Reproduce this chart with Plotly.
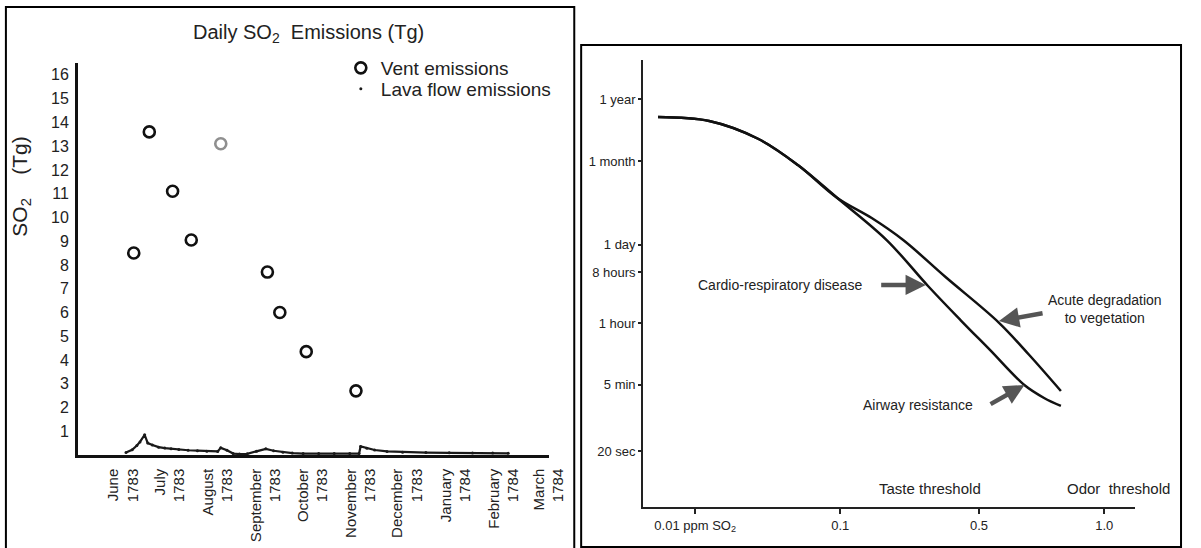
import math
import plotly.graph_objects as go

W, H = 1201, 548
FONT = "Liberation Sans, Arial, sans-serif"
INK = "#222222"

# ---------------- Left panel data: daily SO2 emissions (Tg) ----------------
month_ticks = ["1783-06-01", "1783-07-01", "1783-08-01", "1783-09-01", "1783-10-01",
               "1783-11-01", "1783-12-01", "1784-01-01", "1784-02-01", "1784-03-01"]
month_labels = ["June<br>1783", "July<br>1783", "August<br>1783", "September<br>1783",
                "October<br>1783", "November<br>1783", "December<br>1783",
                "January<br>1784", "February<br>1784", "March<br>1784"]
so2_ticks = list(range(1, 17))

vent_dates = ["1783-06-08", "1783-06-18", "1783-07-03", "1783-07-15", "1783-08-03",
              "1783-09-02", "1783-09-10", "1783-09-27", "1783-10-29"]
vent_tg = [8.5, 13.6, 11.1, 9.05, 13.1, 7.7, 6.0, 4.35, 2.7]
vent_edge = ["#111111", "#111111", "#111111", "#111111", "#8f8f8f",
             "#111111", "#111111", "#111111", "#111111"]

lava_dates = ["1783-06-03", "1783-06-07", "1783-06-10", "1783-06-12", "1783-06-15",
              "1783-06-17", "1783-06-20", "1783-06-24", "1783-06-28", "1783-07-02",
              "1783-07-07", "1783-07-13", "1783-07-19", "1783-07-25", "1783-08-01",
              "1783-08-03", "1783-08-07", "1783-08-11", "1783-08-15", "1783-08-20",
              "1783-08-26", "1783-09-01", "1783-09-06", "1783-09-12", "1783-09-18",
              "1783-09-25", "1783-10-05", "1783-10-15", "1783-10-25", "1783-10-31",
              "1783-11-01", "1783-11-05", "1783-11-10", "1783-11-18", "1783-11-28",
              "1783-12-13", "1783-12-28", "1784-01-12", "1784-01-25", "1784-02-04"]
lava_tg = [0.10, 0.22, 0.40, 0.55, 0.85,
           0.50, 0.42, 0.33, 0.29, 0.26,
           0.23, 0.20, 0.18, 0.16, 0.15,
           0.30, 0.20, 0.06, 0.04, 0.05,
           0.16, 0.26, 0.18, 0.12, 0.08,
           0.06, 0.06, 0.06, 0.06, 0.06,
           0.36, 0.28, 0.21, 0.15, 0.12,
           0.10, 0.09, 0.08, 0.08, 0.07]

# ---------------- Right panel data: exposure duration vs concentration ----------------
# x is a schematic (non-uniform) concentration axis; positions of the labelled ticks
conc_tick_pos = [0.0, 1.0, 1.957, 2.82]
conc_tick_labels = ["0.01 ppm SO<sub>2</sub>", "0.1", "0.5", "1.0"]
dur_tick_s = [31536000, 2592000, 86400, 28800, 3600, 300, 20]
dur_tick_labels = ["1 year", "1 month", "1 day", "8 hours", "1 hour", "5 min", "20 sec"]

# Cardio-respiratory disease / airway resistance curve
lower_pos = [-0.256, 0.097, 0.437, 0.708, 0.980, 1.320, 1.605, 1.829, 2.032,
             2.269, 2.405, 2.521]
lower_dur_s = [1.54e7, 1.31e7, 6.31e6, 2.20e6, 5.77e5, 1.05e5, 1.63e4, 4.10e3, 1.22e3,
               294, 174, 126]
# Acute degradation to vegetation curve
upper_pos = [-0.256, 0.097, 0.437, 0.708, 0.980, 1.217, 1.434, 1.726, 2.093,
             2.303, 2.521]
upper_dur_s = [1.54e7, 1.31e7, 6.31e6, 2.20e6, 5.77e5, 2.56e5, 1.05e5, 2.34e4, 3.70e3,
               993, 231]

fig = go.Figure()

# Left panel traces
fig.add_trace(go.Scatter(
    x=lava_dates, y=lava_tg, mode="lines", line=dict(color="#1a1a1a", width=2.2),
    showlegend=False, xaxis="x", yaxis="y", hoverinfo="skip"))
fig.add_trace(go.Scatter(
    x=vent_dates, y=vent_tg, mode="markers", name="Vent emissions",
    marker=dict(symbol="circle-open", size=11, color=vent_edge,
                line=dict(width=2.6, color=vent_edge)),
    xaxis="x", yaxis="y", legend="legend"))
fig.add_trace(go.Scatter(
    x=lava_dates, y=lava_tg, mode="markers", name="Lava flow emissions",
    marker=dict(symbol="circle", size=3, color="#1a1a1a"),
    xaxis="x", yaxis="y", legend="legend2"))

# Right panel traces
fig.add_trace(go.Scatter(
    x=lower_pos, y=lower_dur_s, mode="lines",
    line=dict(color="#111111", width=2.5, shape="spline", smoothing=1.0),
    showlegend=False, xaxis="x2", yaxis="y2"))
fig.add_trace(go.Scatter(
    x=upper_pos, y=upper_dur_s, mode="lines",
    line=dict(color="#111111", width=2.5, shape="spline", smoothing=1.0),
    showlegend=False, xaxis="x2", yaxis="y2"))

annotations = []
annotations.append(dict(text="Daily SO<sub>2</sub>&nbsp; Emissions (Tg)", xref="paper", yref="paper",
                        x=313 / W, y=1 - 34 / H, xanchor="center", yanchor="middle",
                        showarrow=False, font=dict(family=FONT, size=20, color=INK)))
annotations.append(dict(text="SO<sub>2</sub>&nbsp;&nbsp;&nbsp;&nbsp;(Tg)", xref="paper", yref="paper",
                        x=21 / W, y=1 - 187 / H, xanchor="center", yanchor="middle",
                        showarrow=False, textangle=-90,
                        font=dict(family=FONT, size=21, color=INK)))

lbl = dict(showarrow=False, xanchor="center", yanchor="middle")
annotations += [
    dict(text="Taste threshold", xref="x2", yref="paper", x=1.618, y=1 - 488 / H,
         font=dict(family=FONT, size=15, color=INK), **lbl),
    dict(text="Odor&nbsp; threshold", xref="x2", yref="paper", x=2.921, y=1 - 488 / H,
         font=dict(family=FONT, size=15, color=INK), **lbl),
    dict(text="Cardio-respiratory disease", xref="x2", yref="y2", x=0.586, y=4.230,
         font=dict(family=FONT, size=14, color=INK), **lbl),
    dict(text="Acute degradation<br>to vegetation", xref="x2", yref="y2", x=2.827, y=3.807,
         align="center", font=dict(family=FONT, size=14, color=INK), **lbl),
    dict(text="Airway resistance", xref="x2", yref="y2", x=1.537, y=2.117,
         font=dict(family=FONT, size=14, color=INK), **lbl),
]
arrow_style = dict(text="", showarrow=True, arrowhead=2, arrowsize=0.9, arrowwidth=4.5,
                   arrowcolor="#555555", xref="x2", yref="y2", axref="x2", ayref="y2")
annotations += [
    dict(x=1.590, y=4.230, ax=1.272, ay=4.230, **arrow_style),
    dict(x=2.094, y=3.596, ax=2.405, ay=3.737, **arrow_style),
    dict(x=2.270, y=2.469, ax=2.026, ay=2.117, **arrow_style),
]

shapes = [
    dict(type="rect", xref="paper", yref="paper", x0=6 / W, x1=583 / W, y0=-0.02, y1=1 - 7 / H,
         line=dict(color="#000000", width=2)),
    dict(type="rect", xref="paper", yref="paper", x0=590 / W, x1=1199 / W, y0=1 - 547 / H,
         y1=1 - 45 / H, line=dict(color="#000000", width=2)),
]

legend_common = dict(xanchor="left", yanchor="top", bgcolor="rgba(0,0,0,0)",
                     font=dict(family=FONT, size=19, color=INK))

fig.update_layout(
    width=W, height=H, margin=dict(l=0, r=0, t=0, b=0),
    paper_bgcolor="white", plot_bgcolor="white",
    font=dict(family=FONT, color=INK),
    showlegend=True,
    legend=dict(x=346 / W, y=1 - 49 / H, **legend_common),
    legend2=dict(x=346 / W, y=1 - 70 / H, **legend_common),
    xaxis=dict(domain=[79 / W, 557 / W], type="date",
               range=["1783-05-03", "1784-03-01"],
               tickmode="array", tickvals=month_ticks, ticktext=month_labels,
               tickangle=-90, tickfont=dict(family=FONT, size=15, color=INK),
               showgrid=False, zeroline=False, showline=True, linecolor="#111111",
               linewidth=2.5, ticks="", ticklabelstandoff=5, anchor="y"),
    yaxis=dict(domain=[1 - 455 / H, 1 - 63 / H], range=[0, 16.5],
               tickmode="array", tickvals=so2_ticks,
               tickfont=dict(family=FONT, size=16, color=INK),
               showgrid=False, zeroline=False, showline=True, linecolor="#111111",
               linewidth=2.5, ticks="", ticklabelstandoff=3, anchor="x"),
    xaxis2=dict(domain=[653 / W, 1152 / W], range=[-0.358, 3.03],
                tickmode="array", tickvals=conc_tick_pos, ticktext=conc_tick_labels,
                tickfont=dict(family=FONT, size=13, color=INK),
                showgrid=False, zeroline=False, showline=True, linecolor="#222222",
                linewidth=2, ticks="outside", ticklen=5, tickwidth=1.5, tickcolor="#222222",
                anchor="y2"),
    yaxis2=dict(domain=[1 - 507 / H, 1 - 60 / H], type="log", range=[0.321, 8.191],
                tickmode="array", tickvals=dur_tick_s, ticktext=dur_tick_labels,
                tickfont=dict(family=FONT, size=13, color=INK),
                showgrid=False, zeroline=False, showline=True, linecolor="#222222",
                linewidth=2, ticks="outside", ticklen=3, tickwidth=1.5, tickcolor="#222222",
                anchor="x2"),
    annotations=annotations, shapes=shapes,
)

fig.write_html("out.html")
